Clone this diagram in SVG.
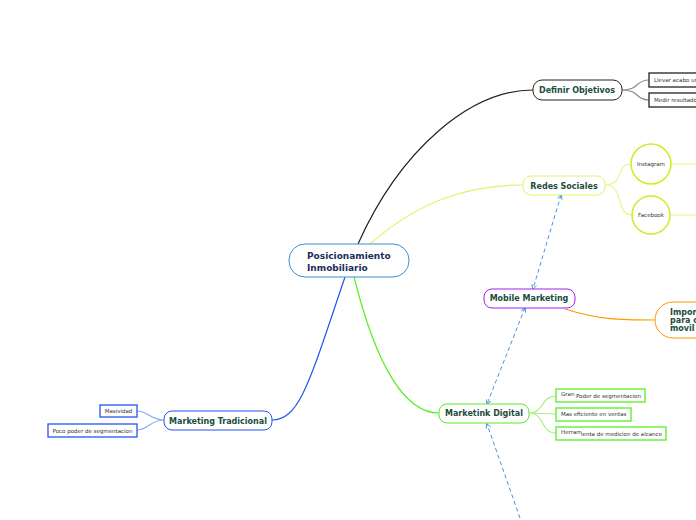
<svg xmlns="http://www.w3.org/2000/svg" width="696" height="520" viewBox="0 0 696 520">
<style>
text{font-family:"DejaVu Sans",Verdana,sans-serif;}
.t{font-size:8px;font-weight:bold;fill:#1b4d3e;}
.s{font-size:5.5px;fill:#333;}
.e{fill:none;stroke-width:1.2;}
.d{fill:none;stroke:#4a90e2;stroke-width:1;stroke-dasharray:4,3;}
</style>
<defs>
<marker id="a" viewBox="0 0 10 10" refX="8" refY="5" markerWidth="6" markerHeight="6" orient="auto-start-reverse"><path d="M1,1 L9,5 L1,9" fill="none" stroke="#4a90e2" stroke-width="1.5"/></marker>
</defs>
<rect width="696" height="520" fill="#fff"/>
<g id="connectors">
<path class="e" stroke="#222" d="M358,244 C400,150 470,90 533,90"/>
<path class="e" stroke="#ddf56b" d="M370,244 C420,200 470,185 523,185"/>
<path class="e" stroke="#55ee22" d="M354,277 C380,380 410,413 439,413"/>
<path class="e" stroke="#2255ee" d="M345,277 C310,380 300,420 272,420"/>
<path class="e" stroke="#888" stroke-width="0.8" d="M622,90 C640,90 635,80 649,80 M622,90 C640,90 635,100 649,100"/>
<path class="e" stroke="#eef28a" stroke-width="0.8" d="M605,185 C625,185 615,164 631,164 M605,185 C625,185 615,215 632,215"/>
<path class="e" stroke="#eef28a" stroke-width="0.8" d="M671,164 L696,164 M670,215 L696,215"/>
<path class="e" stroke="#ff9900" d="M565,309 C600,320 620,320 655,320"/>
<path class="e" stroke="#aaf088" stroke-width="0.8" d="M529,413 C545,413 540,396 556,396 M529,413 L556,414 M529,413 C545,413 540,433 556,433"/>
<path class="e" stroke="#88aaf0" stroke-width="0.8" d="M164,420 C150,420 148,411 137,411 M164,420 C150,420 148,430 137,430"/>
<path class="d" marker-start="url(#a)" marker-end="url(#a)" d="M561,195 L533,289"/>
<path class="d" marker-start="url(#a)" marker-end="url(#a)" d="M525,308 L487,404"/>
<path class="d" marker-end="url(#a)" d="M520,518 L487,424"/>
</g>
<g id="central"><rect x="289" y="244" width="120" height="33" rx="16" fill="#fff" stroke="#3a8fd0"/>
<text x="307" y="259" font-size="9" font-weight="bold" fill="#1a2f5a">Posicionamiento</text><text x="307" y="271" font-size="9" font-weight="bold" fill="#1a2f5a">Inmobiliario</text></g>
<g id="definir"><rect x="533" y="80" width="89" height="20" rx="9" fill="#fff" stroke="#222"/><text class="t" x="577" y="93" text-anchor="middle">Definir Objetivos</text></g>
<g id="llevar"><rect x="649" y="73" width="60" height="14" fill="#fff" stroke="#222" stroke-width="1.3"/><text class="s" x="654" y="82">Llevar acabo un</text></g>
<g id="medir"><rect x="649" y="93" width="60" height="14" fill="#fff" stroke="#222" stroke-width="1.3"/><text class="s" x="654" y="102">Medir resultados</text></g>
<g id="redes"><rect x="523" y="176" width="82" height="19" rx="8" fill="#fff" stroke="#ddf56b"/><text class="t" x="564" y="189" text-anchor="middle">Redes Sociales</text></g>
<g id="instagram"><circle cx="651" cy="164" r="20" fill="#fff" stroke="#ccee22" stroke-width="1.5"/><text class="s" x="651" y="166" text-anchor="middle">Instagram</text></g>
<g id="facebook"><circle cx="651" cy="215" r="19" fill="#fff" stroke="#ccee22" stroke-width="1.5"/><text class="s" x="651" y="217" text-anchor="middle">Facebook</text></g>
<g id="mobile"><rect x="484" y="289" width="91" height="19" rx="8" fill="#fff" stroke="#a020f0"/><text class="t" x="529" y="301" text-anchor="middle">Mobile Marketing</text></g>
<g id="importancia"><rect x="655" y="302" width="70" height="36" rx="18" fill="#fff" stroke="#ff9900"/><text class="t" x="670" y="315">Importancia</text><text class="t" x="670" y="323">para optimizar</text><text class="t" x="670" y="331">movil</text></g>
<g id="digital"><rect x="439" y="404" width="90" height="19" rx="8" fill="#fff" stroke="#55ee22"/><text class="t" x="484" y="416" text-anchor="middle">Marketink Digital</text></g>
<g id="gran"><rect x="556" y="389" width="89" height="13" fill="#fff" stroke="#55ee22" stroke-width="1.3"/><text class="s" x="561" y="396">Gran</text><text class="s" x="576" y="398">Poder de segmentacion</text></g>
<g id="mas"><rect x="556" y="408" width="75" height="13" fill="#fff" stroke="#55ee22" stroke-width="1.3"/><text class="s" x="561" y="416">Mas eficiente en ventas</text></g>
<g id="herr"><rect x="556" y="427" width="110" height="13" fill="#fff" stroke="#55ee22" stroke-width="1.3"/><text class="s" x="561" y="434">Herram</text><text class="s" x="581" y="436">ienta de medicion de alcance</text></g>
<g id="tradicional"><rect x="164" y="411" width="108" height="19" rx="8" fill="#fff" stroke="#2255ee"/><text class="t" x="218" y="424" text-anchor="middle">Marketing Tradicional</text></g>
<g id="masividad"><rect x="100" y="405" width="37" height="12" fill="#fff" stroke="#2255ee" stroke-width="1.3"/><text class="s" x="118.5" y="413" text-anchor="middle">Masividad</text></g>
<g id="poco"><rect x="48" y="424" width="89" height="13" fill="#fff" stroke="#2255ee" stroke-width="1.3"/><text class="s" x="92.5" y="433" text-anchor="middle">Poco poder de segmentacion</text></g>
</svg>
